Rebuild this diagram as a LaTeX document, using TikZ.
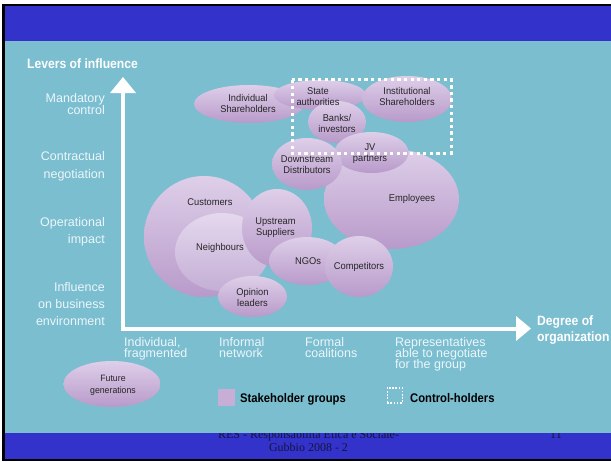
\documentclass[tikz,border=0pt]{standalone}
\usepackage{fontspec}
\setmainfont{Liberation Sans}
\newfontfamily\lblfont{Liberation Sans}[FakeStretch=0.95]
\newfontfamily\bfont{Liberation Sans}[FakeStretch=0.9]
\newfontfamily\footfont{Liberation Serif}
\usetikzlibrary{calc,shapes.geometric}
\definecolor{teal0}{RGB}{123,190,208}
\definecolor{blue0}{RGB}{51,51,204}
\definecolor{lavtop}{RGB}{222,207,233}
\definecolor{lavbot}{RGB}{184,154,202}
\definecolor{neightop}{RGB}{228,216,238}
\definecolor{neighbot}{RGB}{196,174,213}
\definecolor{legendlav}{RGB}{199,174,214}
\definecolor{axiswhite}{RGB}{236,246,250}
\definecolor{footcol}{RGB}{20,20,60}
\begin{document}
\begin{tikzpicture}[x=1pt,y=-1pt,
  blob/.style={ellipse, inner sep=0pt, top color=lavtop, bottom color=lavbot, draw=none},
  lbl/.style={font=\lblfont\fontsize{9.8}{11}\selectfont, text=black!85, align=center, inner sep=0pt},
  axl/.style={font=\fontsize{12.5}{12}\selectfont, text=axiswhite, inner sep=0pt},
  yax/.style={axl, anchor=base east},
  xax/.style={axl, anchor=base west},
  boldw/.style={font=\bfont\bfseries\fontsize{13.5}{16}\selectfont, text=white, inner sep=0pt, anchor=base west},
  legtext/.style={font=\bfont\bfseries\fontsize{12.5}{14}\selectfont, text=black, inner sep=0pt, anchor=base west},
  foot/.style={font=\footfont\fontsize{12}{13}\selectfont, text=footcol, inner sep=0pt, anchor=base},
  ctrl/.style={draw=white, line width=3pt, dash pattern=on 3.3pt off 3.3pt}
]
\useasboundingbox (0,0) rectangle (611,461);
% frame and bands
\fill[white] (0,0) rectangle (611,461);
\fill[black] (2,4) rectangle (611,461);
\fill[blue0] (5,6) rectangle (611,459);
% footer
\node[foot] (foot1) at (308.5,438) {RES - Responsabilità Etica e Sociale-};
\node[foot] (foot2) at (308.5,451.5) {Gubbio 2008 - 2};
\node[foot] (foot3) at (556,438) {11};
% teal panel
\fill[teal0] (5,41) rectangle (611,433);

% stakeholder ellipses
\node[blob, minimum width=110pt, minimum height=38pt] (indsh) at (249,104) {};
\node[blob, minimum width=92pt, minimum height=30pt] (state) at (320,95) {};
\node[blob, minimum width=58pt, minimum height=42pt] (banks) at (337,122) {};
\node[blob, minimum width=90pt, minimum height=46pt] (inst) at (407,99) {};
\node[blob, minimum width=135pt, minimum height=100pt] (empl) at (391.5,199) {};
\node[blob, minimum width=74pt, minimum height=41pt] (jv) at (371.5,152.5) {};
\node[blob, minimum width=70pt, minimum height=52pt] (down) at (307,164) {};
\node[blob, minimum width=120pt, minimum height=121pt] (cust) at (204,236.5) {};
\node[blob, top color=neightop, bottom color=neighbot, minimum width=94pt, minimum height=78pt] (neigh) at (222,252) {};
\node[blob, minimum width=70pt, minimum height=78pt] (up) at (277,228) {};
\node[blob, minimum width=76pt, minimum height=48pt] (ngo) at (307,261) {};
\node[blob, minimum width=68pt, minimum height=61pt] (comp) at (359,266.5) {};
\node[blob, minimum width=69pt, minimum height=41pt] (opin) at (252.5,296.5) {};
\node[blob, minimum width=97pt, minimum height=46pt] (future) at (112,384) {};

% labels
\node[lbl] (tindsh) at (248,103.5) {Individual\\Shareholders};
\node[lbl] (tstate) at (318,96.5) {State\\authorities};
\node[lbl] (tbanks) at (337,123) {Banks/\\investors};
\node[lbl] (tinst) at (407,96.5) {Institutional\\Shareholders};
\node[lbl] (templ) at (412,199) {Employees};
\node[lbl] (tjv) at (370,153.5) {JV\\partners};
\node[lbl] (tdown) at (307,165) {Downstream\\Distributors};
\node[lbl] (tcust) at (210,202) {Customers};
\node[lbl] (tneigh) at (220,248) {Neighbours};
\node[lbl] (tup) at (275.5,227.5) {Upstream\\Suppliers};
\node[lbl] (tngo) at (308,261) {NGOs};
\node[lbl] (tcomp) at (359,267) {Competitors};
\node[lbl] (topin) at (252.5,297.5) {Opinion\\leaders};
\node[lbl, font=\lblfont\fontsize{9.2}{12}\selectfont] (tfuture) at (113,385) {Future\\generations};

% control-holders box
\draw[ctrl] (292,79.5) rectangle (451,153);

% axes
\coordinate (origin) at (123,328.5);
\coordinate (ytip) at (123,77);
\coordinate (xtip) at (531,328.5);
\draw[white, line width=4pt, line join=miter] ($(ytip)+(0,15)$) -- (origin) -- ($(xtip)+(-14,0)$);
\fill[white] (ytip) -- ++(13,16) -- ++(-26,0) -- cycle;
\fill[white] (xtip) -- ++(-15,12.5) -- ++(0,-25) -- cycle;

% axis titles
\node[boldw] (levers) at (27,68.7) {Levers of influence};
\node[boldw] (deg1) at (537,325.5) {Degree of};
\node[boldw] (deg2) at (537,341) {organization};

% y-axis labels
\node[yax] (m1) at (105,102.5) {Mandatory};
\node[yax] (m2) at (105,114.5) {control};
\node[yax] (c1) at (105,160.5) {Contractual};
\node[yax] (c2) at (105,178) {negotiation};
\node[yax] (o1) at (105,226.5) {Operational};
\node[yax] (o2) at (105,243.5) {impact};
\node[yax] (i1) at (105,291.5) {Influence};
\node[yax] (i2) at (105,308.5) {on business};
\node[yax] (i3) at (105,325) {environment};

% x-axis labels
\node[xax] (a1) at (124,346.5) {Individual,};
\node[xax] (a2) at (124,357.5) {fragmented};
\node[xax] (b1) at (219,346.5) {Informal};
\node[xax] (b2) at (219,357.5) {network};
\node[xax] (f1) at (305,346.5) {Formal};
\node[xax] (f2) at (305,357.5) {coalitions};
\node[xax] (r1) at (395,346.5) {Representatives};
\node[xax] (r2) at (395,357.5) {able to negotiate};
\node[xax] (r3) at (395,368.5) {for the group};

% legend
\node[fill=legendlav, minimum size=17pt, inner sep=0pt] (legsq) at (226.5,397.5) {};
\node[legtext] (legtxt) at (240,402) {Stakeholder groups};
\node[draw=white, line width=1.5pt, dash pattern=on 1.6pt off 1.6pt, minimum size=15pt, inner sep=0pt] (ctrlsq) at (394.75,395.5) {};
\node[legtext] (ctrltxt) at (410,402) {Control-holders};
\end{tikzpicture}
\end{document}
